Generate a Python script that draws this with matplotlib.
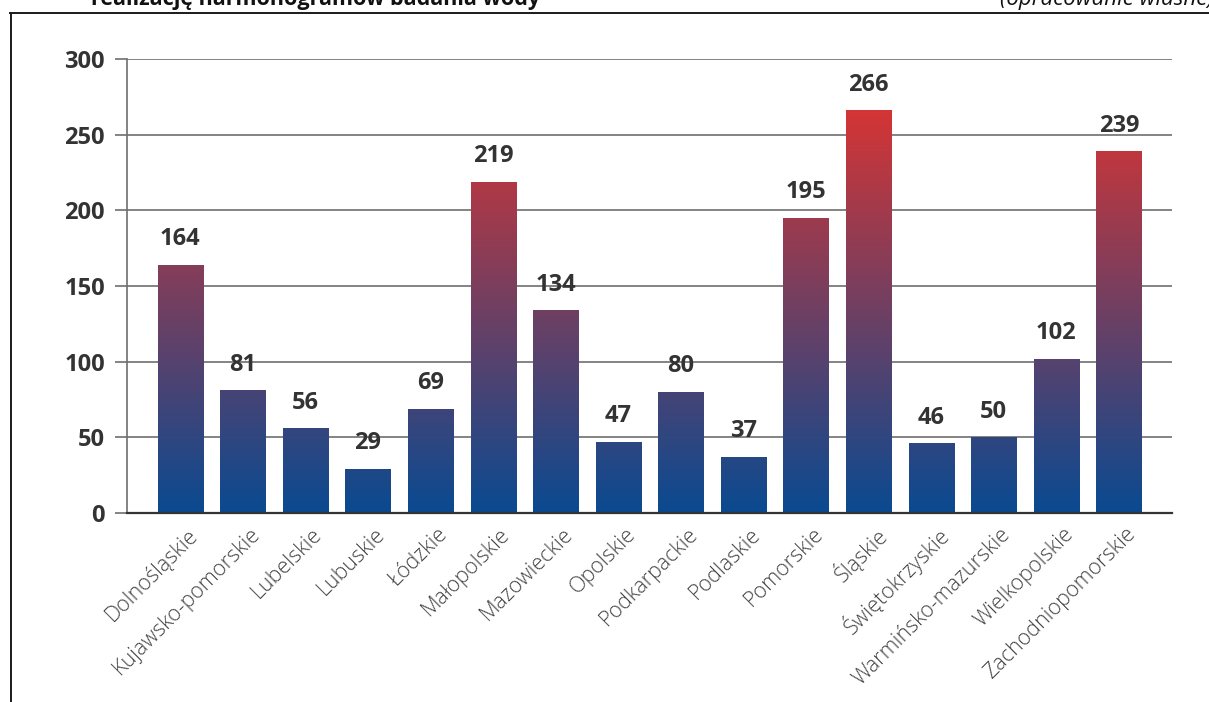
import numpy as np
import matplotlib
matplotlib.use("Agg")
import matplotlib.pyplot as plt
from matplotlib.colors import LinearSegmentedColormap
from matplotlib.patches import Rectangle
from matplotlib.lines import Line2D
import matplotlib.transforms as mtransforms

# Voivodeships and counts
regions = [
    "Dolnośląskie", "Kujawsko-pomorskie", "Lubelskie", "Lubuskie", "Łódzkie",
    "Małopolskie", "Mazowieckie", "Opolskie", "Podkarpackie", "Podlaskie",
    "Pomorskie", "Śląskie", "Świętokrzyskie", "Warmińsko-mazurskie",
    "Wielkopolskie", "Zachodniopomorskie",
]
values = [164, 81, 56, 29, 69, 219, 134, 47, 80, 37, 195, 266, 46, 50, 102, 239]
yticks = [0, 50, 100, 150, 200, 250, 300]

title_text = "realizację harmonogramów badania wody"
source_text = "(opracowanie własne)"

TEXT = "#333333"
GRID = "#6e6e6e"
cmap = LinearSegmentedColormap.from_list("bluered", ["#0a4a91", "#d43535"])

plt.rcParams["font.family"] = ["Open Sans", "DejaVu Sans"]

W, H = 1209, 702
fig = plt.figure(figsize=(W / 100, H / 100), dpi=100)

# Frame around the chart panel
fig.add_artist(Line2D([10 / W, 1.0], [1 - 13 / H, 1 - 13 / H], color="#1a1a1a", lw=1.4,
                      transform=fig.transFigure))
fig.add_artist(Line2D([11 / W, 11 / W], [0, 1 - 13 / H], color="#1a1a1a", lw=1.4,
                      transform=fig.transFigure))
fig.text(316 / W, 1 - 5 / H, title_text, ha="center", va="baseline",
         fontsize=15.5, fontweight="bold", color="#111111")
fig.text(1000 / W, 1 - 5 / H, source_text, ha="left", va="baseline",
         fontsize=16, fontstyle="italic", color="#111111")

ax = fig.add_axes([127 / W, 1 - 513 / H, (1172 - 127) / W, (513 - 59) / H])
n = len(values)
x = np.arange(n)

ax.set_yticks(yticks)
ax.set_yticklabels([str(t) for t in yticks], fontsize=17, fontweight="bold", color=TEXT)
ax.yaxis.grid(True, color=GRID, lw=1.2)
ax.set_axisbelow(True)
ax.tick_params(axis="y", length=9, width=1.2, color=GRID, pad=7)

ax.set_xticks(x)
ax.set_xticklabels(regions, rotation=45, ha="right", va="center",
                   rotation_mode="anchor", fontsize=15.5, fontweight="light", color="#444444")
ax.tick_params(axis="x", length=0, pad=13)
shift = mtransforms.ScaledTranslation(14 / 100, 0, fig.dpi_scale_trans)
for lbl in ax.get_xticklabels():
    lbl.set_transform(lbl.get_transform() + shift)

for side in ["top", "right"]:
    ax.spines[side].set_visible(False)
ax.spines["left"].set_color(GRID)
ax.spines["left"].set_linewidth(1.2)
ax.spines["bottom"].set_color("#333333")
ax.spines["bottom"].set_linewidth(1.6)
ax.spines["bottom"].set_zorder(5)

# Bars with a vertical gradient shared across the whole value range
vmax = max(values)
grad = np.linspace(0, 1, 512).reshape(-1, 1)
bw = 0.72
for xi, v in zip(x, values):
    rect = Rectangle((xi - bw / 2, 0), bw, v, facecolor="none", edgecolor="none")
    ax.add_patch(rect)
    im = ax.imshow(grad, cmap=cmap, aspect="auto", origin="lower",
                   extent=(xi - bw / 2, xi + bw / 2, 0, vmax), zorder=2,
                   interpolation="bicubic")
    im.set_clip_path(rect)
    ax.text(xi, v + 9, str(v), ha="center", va="bottom", fontsize=17,
            fontweight="bold", color=TEXT, zorder=4)

ax.set_xlim(-0.85, n - 1 + 0.85)
ax.set_ylim(0, 300)

fig.savefig("out.png", dpi=100)
